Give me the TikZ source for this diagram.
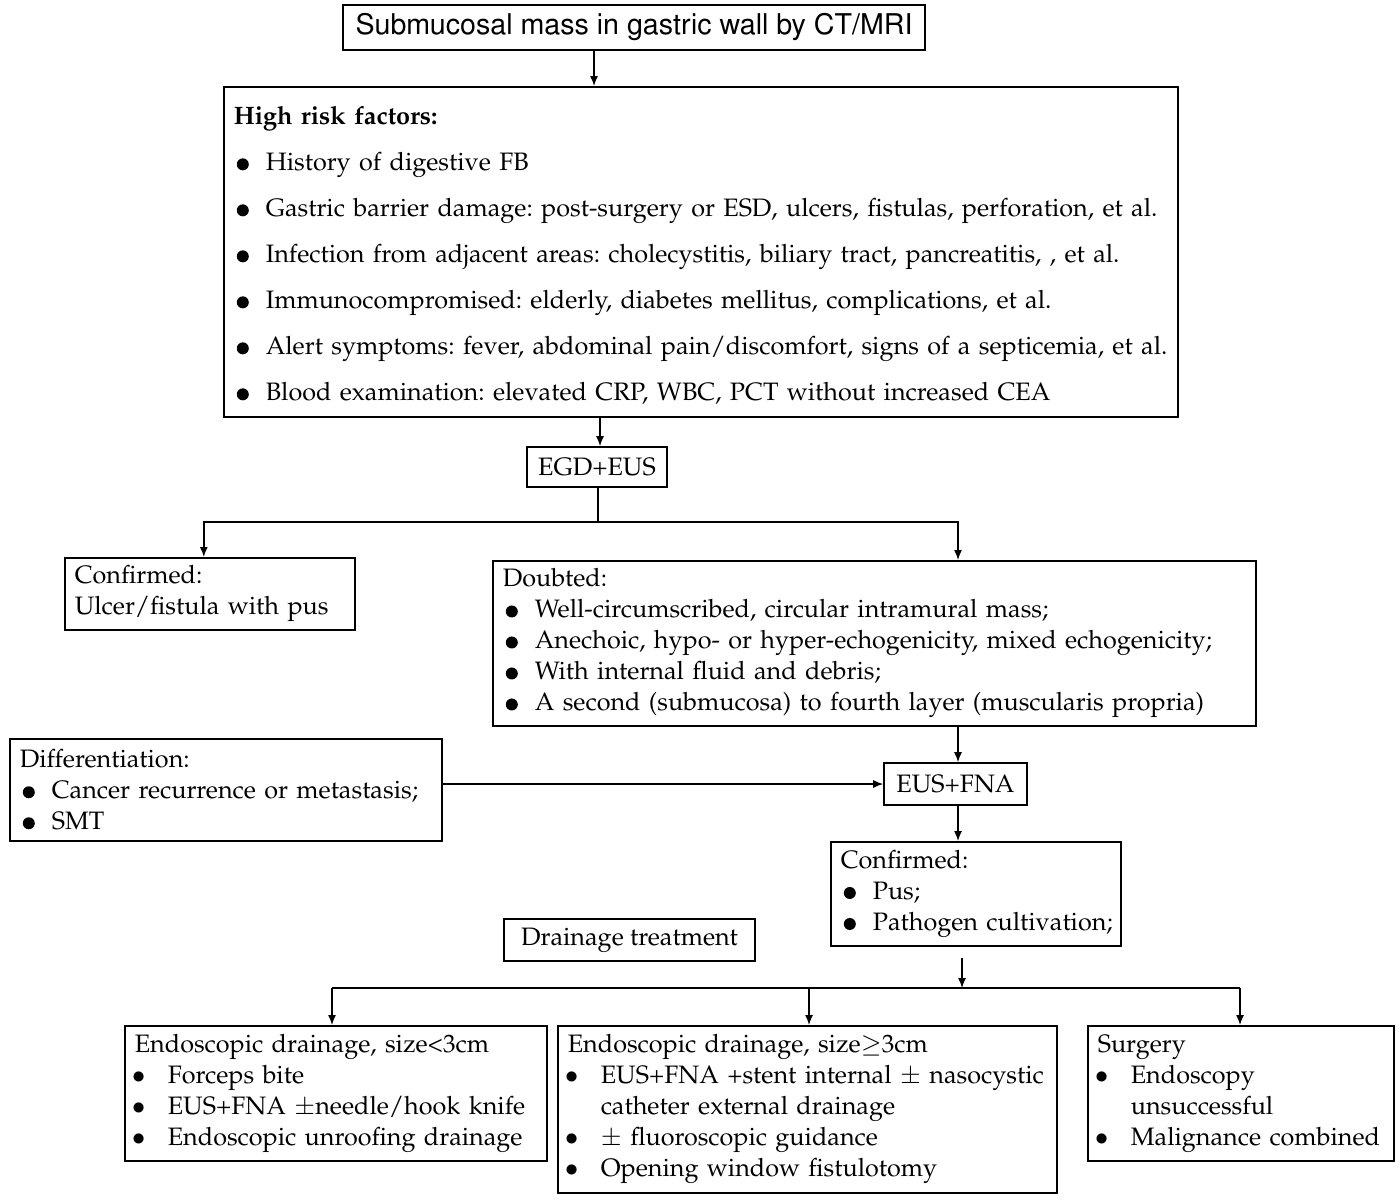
\documentclass[tikz,border=0pt]{standalone}
\usepackage[T1]{fontenc}
\usepackage{mathpazo}
\usepackage{helvet}
\usetikzlibrary{arrows.meta,calc}
\newcommand\BigB{\makebox[16pt][l]{\hspace{1.5pt}\tikz[baseline={(0,-3.2pt)}]\fill (0,0) circle (3pt);}}
\newcommand\SmB{\makebox[16.5pt][l]{\hspace{-1.5pt}$\bullet$}}
\newcommand\BI[1]{\mbox{\BigB #1}}
\newcommand\SI[1]{\mbox{\SmB #1}}
\newcommand\LI[1]{\mbox{#1}}
\begin{document}
\begin{tikzpicture}[x=0.5pt,y=-0.5pt,
  box/.style={draw, line width=0.8pt, inner sep=0pt, inner xsep=5pt, align=left,
    font=\fontsize{12.6}{15.5}\selectfont\frenchspacing, anchor=north west},
  cbox/.style={draw, line width=0.8pt, inner sep=0pt, font=\fontsize{12.6}{15.5}\selectfont},
  arr/.style={-{Latex[length=5pt,width=4pt]}, line width=0.7pt},
  ln/.style={line width=0.7pt}]
\useasboundingbox (0,0) rectangle (1400,1201);

\node[cbox, minimum width=291pt, minimum height=22.5pt, font=\fontsize{14.3}{16}\sffamily] (title) at (634,27.5) {Submucosal mass in gastric wall by CT/MRI};

\node[box, text width=467pt, minimum height=165pt, font=\fontsize{12.6}{23}\selectfont\frenchspacing] (high) at (223,86) {\rule{0pt}{13pt}\textbf{High risk factors:}\\
\BI{History of digestive FB}\\
\BI{Gastric barrier damage: post-surgery or ESD, ulcers, fistulas, perforation, et al.}\\
\BI{Infection from adjacent areas: cholecystitis, biliary tract, pancreatitis, , et al.}\\
\BI{Immunocompromised: elderly, diabetes mellitus, complications, et al.}\\
\BI{Alert symptoms: fever, abdominal pain/discomfort, signs of a septicemia, et al.}\\
\BI{Blood examination: elevated CRP, WBC, PCT without increased CEA}};

\node[cbox, minimum width=70pt, minimum height=20pt] (egd) at (597,467) {EGD+EUS};

\node[box, text width=135pt, minimum height=36pt] (conf1) at (64,557) {Confirmed:\\ \LI{Ulcer/fistula with pus}};

\node[box, text width=371.5pt, minimum height=82.5pt] (doubt) at (492,560) {Doubted:\\
\BI{Well-circumscribed, circular intramural mass;}\\
\BI{Anechoic, hypo- or hyper-echogenicity, mixed echogenicity;}\\
\BI{With internal fluid and debris;}\\
\BI{A second (submucosa) to fourth layer (muscularis propria)}};

\node[box, text width=206pt, minimum height=51pt] (diff) at (9,738) {Differentiation:\\
\BI{Cancer recurrence or metastasis;}\\
\BI{SMT}};

\node[cbox, minimum width=71.5pt, minimum height=21pt] (eusfna) at (955.5,784) {EUS+FNA};

\node[box, text width=135pt, minimum height=52pt] (conf2) at (830,841) {Confirmed:\\
\BI{Pus;}\\
\BI{Pathogen cultivation;}};

\node[cbox, minimum width=125.5pt, minimum height=21pt] (drain) at (629.5,940) {Drainage treatment};

\node[box, text width=201pt, minimum height=67.5pt] (A) at (124,1025) {\LI{Endoscopic drainage, size\textless3cm}\\
\SI{Forceps bite}\\
\SI{EUS+FNA $\pm$needle/hook knife}\\
\SI{Endoscopic unroofing drainage}};

\node[box, text width=239.5pt, minimum height=83.5pt] (B) at (557,1025) {\LI{Endoscopic drainage, size$\geq$3cm}\\
\SI{EUS+FNA +stent internal $\pm$ nasocystic}\\
\LI{\hspace*{16.5pt}catheter external drainage}\\
\SI{$\pm$ fluoroscopic guidance}\\
\SI{Opening window fistulotomy}};

\node[box, text width=143pt, minimum height=67.5pt] (C) at (1087,1025) {Surgery\\
\SI{Endoscopy}\\
\LI{\hspace*{16.5pt}unsuccessful}\\
\SI{Malignance combined}};

% connectors
\draw[arr] ([xshift=-20pt]title.south) -- ([xshift=-20pt]title.south |- high.north);
\draw[arr] ([xshift=1.5pt]egd.north |- high.south) -- ([xshift=1.5pt]egd.north);
\coordinate (s1) at (598,522);
\coordinate (s1r) at (958,522);
\draw[ln] (egd.south -| s1) -- (s1);
\draw[arr] (s1) -| ([xshift=-3pt]conf1.north);
\draw[arr] (s1) -| (s1r |- doubt.north);
\draw[arr] (s1r |- doubt.south) -- (s1r |- eusfna.north);
\draw[arr] (diff.east |- eusfna.west) -- (eusfna.west);
\draw[arr] (s1r |- eusfna.south) -- (s1r |- conf2.north);
\coordinate (t1) at (962,958);
\coordinate (t2) at (962,988);
\draw[arr] (t1) -- (t2);
\coordinate (hl) at (332,988);
\coordinate (hm) at (809,988);
\coordinate (hr) at (1240,988);
\draw[ln] (hl) -- (hr);
\draw[arr] (hl) -- (hl |- A.north);
\draw[arr] (hm) -- (hm |- B.north);
\draw[arr] (hr) -- (hr |- C.north);
\end{tikzpicture}
\end{document}
